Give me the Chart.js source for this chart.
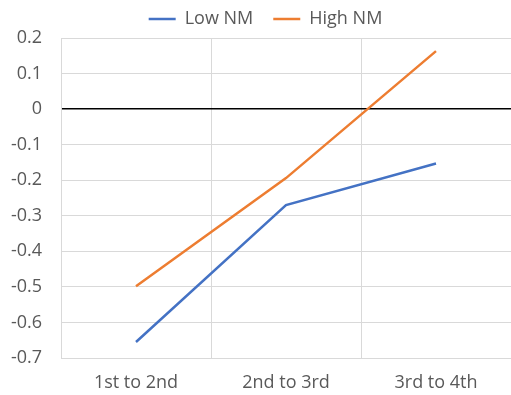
<!DOCTYPE html>
<html>
<head>
<meta charset="utf-8">
<script src="https://cdn.jsdelivr.net/npm/chart.js@4"></script>
<style>
  html, body { margin: 0; padding: 0; background: #fff; }
  #wrap { width: 511px; height: 395px; }
</style>
</head>
<body>
<div id="wrap"><canvas id="chart"></canvas></div>
<script>
// datos
const categories = ["1st to 2nd", "2nd to 3rd", "3rd to 4th"];
const lowNM = [-0.655, -0.27, -0.153];
const highNM = [-0.498, -0.194, 0.163];
const yTicks = [0.2, 0.1, 0, -0.1, -0.2, -0.3, -0.4, -0.5, -0.6, -0.7];

const ctx = document.getElementById("chart").getContext("2d");
Chart.defaults.font.family = "'Open Sans', 'Liberation Sans', sans-serif";
Chart.defaults.color = "#595959";

// desplazar un poco la leyenda a la derecha, como en el original
const legendShift = {
  id: "legendShift",
  afterLayout(chart) {
    chart.legend.left += 10;
    chart.legend.right += 10;
  },
};

new Chart(ctx, {
  type: "line",
  data: {
    labels: categories,
    datasets: [
      {
        label: "Low NM",
        data: lowNM,
        borderColor: "#4472C4",
        backgroundColor: "#4472C4",
        borderWidth: 2.5,
        pointRadius: 0,
        tension: 0,
      },
      {
        label: "High NM",
        data: highNM,
        borderColor: "#ED7D31",
        backgroundColor: "#ED7D31",
        borderWidth: 2.5,
        pointRadius: 0,
        tension: 0,
      },
    ],
  },
  options: {
    responsive: true,
    maintainAspectRatio: false,
    animation: false,
    layout: { padding: { top: -10, right: 0, left: 0, bottom: 0 } },
    plugins: {
      legend: {
        position: "top",
        labels: {
          usePointStyle: true,
          pointStyle: "line",
          pointStyleWidth: 27,
          font: { size: 18 },
          padding: 20,
        },
      },
      tooltip: { enabled: false },
    },
    scales: {
      x: {
        offset: true,
        grid: { offset: true, color: "#d9d9d9", drawTicks: false },
        border: { color: "#d9d9d9" },
        ticks: { font: { size: 18 }, padding: 14 },
        afterFit: (scale) => { scale.height = 37; },
      },
      y: {
        min: -0.7,
        max: 0.2,
        afterBuildTicks: (scale) => {
          scale.ticks = yTicks.map((v) => ({ value: v }));
        },
        grid: {
          drawTicks: false,
          color: (c) => (c.tick && Math.abs(c.tick.value) < 1e-9 ? "#000000" : "#d9d9d9"),
          lineWidth: (c) => (c.tick && Math.abs(c.tick.value) < 1e-9 ? 1.5 : 1),
        },
        border: { color: "#d9d9d9" },
        ticks: {
          font: { size: 18 },
          padding: 19,
          callback: (v) => String(Math.round(v * 10) / 10),
        },
        afterFit: (scale) => { scale.width = 61; },
      },
    },
  },
  plugins: [legendShift],
});
</script>
</body>
</html>
